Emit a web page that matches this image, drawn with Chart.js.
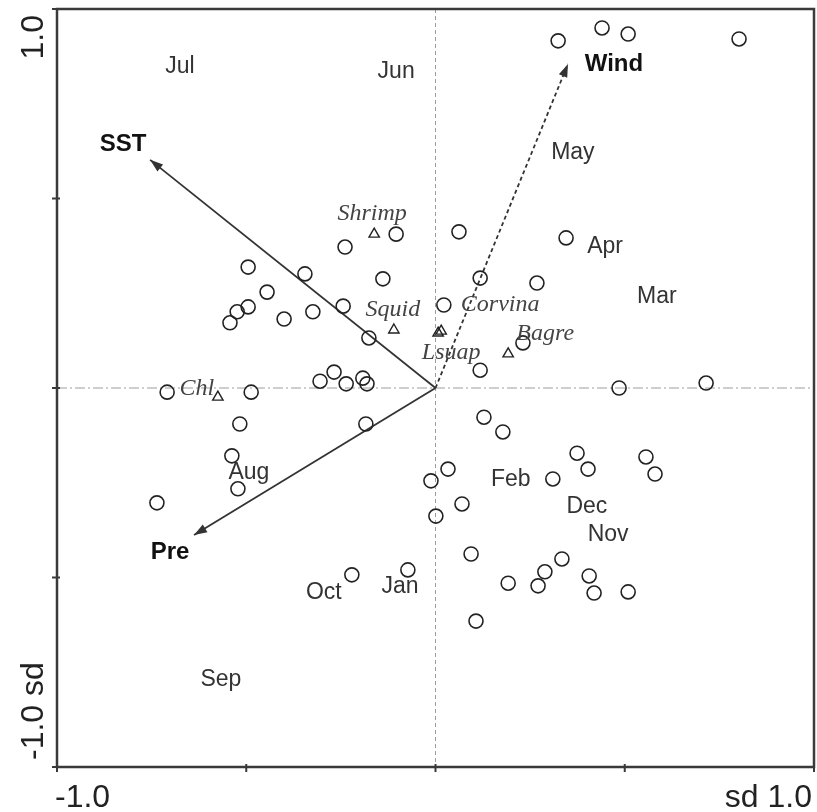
<!DOCTYPE html>
<html lang="en">
<head>
<meta charset="UTF-8" />
<title>CCA biplot</title>
<script src="https://cdn.jsdelivr.net/npm/chart.js"></script>
<style>
  html, body { margin: 0; padding: 0; background: #fff; overflow: hidden; }
  canvas { display: block; }
</style>
</head>
<body>
<canvas id="biplot" width="817" height="812"></canvas>
<script>
// sample scores (open circles)
const sampleX = [0.324, 0.440, 0.509, 0.802, -0.239, -0.104, 0.062, 0.345, -0.139, 0.118,
  0.268, -0.345, -0.495, -0.445, -0.495, -0.524, -0.543, -0.400, -0.324, -0.244,
  -0.176, -0.268, -0.305, -0.236, -0.192, -0.181, -0.709, -0.487, -0.517, -0.538,
  -0.522, -0.736, -0.184, 0.022, 0.231, 0.118, 0.485, 0.715, 0.128, 0.178,
  0.374, 0.403, 0.556, 0.580, 0.033, -0.012, 0.310, 0.070, 0.001, 0.094,
  -0.073, 0.192, 0.271, 0.289, 0.334, 0.406, 0.419, 0.509, 0.107, -0.221];
const sampleY = [0.916, 0.950, 0.934, 0.921, 0.372, 0.406, 0.412, 0.396, 0.288, 0.290,
  0.277, 0.301, 0.319, 0.253, 0.214, 0.201, 0.172, 0.182, 0.201, 0.216,
  0.132, 0.042, 0.018, 0.011, 0.026, 0.011, -0.011, -0.011, -0.095, -0.179,
  -0.266, -0.303, -0.095, 0.219, 0.119, 0.047, 0.000, 0.013, -0.077, -0.116,
  -0.172, -0.214, -0.182, -0.227, -0.214, -0.245, -0.240, -0.306, -0.338, -0.438,
  -0.480, -0.515, -0.522, -0.485, -0.451, -0.496, -0.541, -0.538, -0.615, -0.493];

// species scores (triangles)
const speciesNames = ["Shrimp", "Squid", "Corvina", "Lsuap", "Bagre", "Chl"];
const speciesX = [-0.162, -0.110, 0.015, 0.007, 0.192, -0.575];
const speciesY = [0.406, 0.153, 0.150, 0.145, 0.090, -0.024];

// month labels
const monthNames = ["Jul", "Jun", "May", "Apr", "Mar", "Aug", "Feb", "Dec", "Nov", "Oct", "Jan", "Sep"];
const monthX = [-0.675, -0.104, 0.363, 0.448, 0.585, -0.493, 0.199, 0.400, 0.456, -0.295, -0.094, -0.567];
const monthY = [0.847, 0.834, 0.620, 0.372, 0.240, -0.224, -0.243, -0.314, -0.388, -0.541, -0.525, -0.770];

// environmental vectors
const envNames = ["SST", "Wind", "Pre"];
const envX = [-0.754, 0.350, -0.638];
const envY = [0.602, 0.855, -0.388];

const axisTicks = [-1, -0.5, 0, 0.5, 1];

// label offsets in pixels from the marker / arrow tip
const speciesOffset = {
  Shrimp: [-2, -20], Squid: [-1, -20], Corvina: [59, -26],
  Lsuap: [13, 20], Bagre: [37, -20], Chl: [-21, -8]
};
const envOffset = { SST: [-27, -15], Wind: [46, 0], Pre: [-24, 17] };

const biplotDecor = {
  id: "biplotDecor",
  beforeDatasetsDraw(chart) {
    const { ctx, chartArea: a, scales: { x, y } } = chart;
    const x0 = x.getPixelForValue(0), y0 = y.getPixelForValue(0);
    ctx.save();
    ctx.strokeStyle = "#9c9c9c";
    ctx.lineWidth = 1;
    ctx.setLineDash([4, 3]);
    ctx.beginPath(); ctx.moveTo(x0, a.top); ctx.lineTo(x0, a.bottom); ctx.stroke();
    ctx.setLineDash([10, 3, 2, 3]);
    ctx.beginPath(); ctx.moveTo(a.left, y0); ctx.lineTo(a.right, y0); ctx.stroke();
    ctx.restore();
  },
  afterDatasetsDraw(chart) {
    const { ctx, chartArea: a, scales: { x, y } } = chart;
    const x0 = x.getPixelForValue(0), y0 = y.getPixelForValue(0);
    ctx.save();

    // arrow heads
    ctx.fillStyle = "#333";
    envNames.forEach((n, i) => {
      const tx = x.getPixelForValue(envX[i]), ty = y.getPixelForValue(envY[i]);
      const ang = Math.atan2(ty - y0, tx - x0);
      ctx.save();
      ctx.translate(tx, ty);
      ctx.rotate(ang);
      ctx.beginPath();
      ctx.moveTo(0, 0); ctx.lineTo(-13, -4.5); ctx.lineTo(-13, 4.5); ctx.closePath();
      ctx.fill();
      ctx.restore();
    });

    // frame
    ctx.strokeStyle = "#3a3a3a";
    ctx.lineWidth = 2.5;
    ctx.strokeRect(a.left, a.top, a.right - a.left, a.bottom - a.top);

    // tick marks
    ctx.lineWidth = 2;
    axisTicks.forEach(t => {
      const px = x.getPixelForValue(t), py = y.getPixelForValue(t);
      ctx.beginPath(); ctx.moveTo(px, a.bottom - 3); ctx.lineTo(px, a.bottom + 5); ctx.stroke();
      ctx.beginPath(); ctx.moveTo(a.left - 5, py); ctx.lineTo(a.left + 3, py); ctx.stroke();
    });

    // axis labels
    ctx.fillStyle = "#222";
    ctx.font = "32px 'Liberation Sans', Arial, sans-serif";
    ctx.textBaseline = "alphabetic";
    ctx.textAlign = "left";
    ctx.fillText("-1.0", a.left - 2, 807);
    ctx.textAlign = "right";
    ctx.fillText("sd 1.0", a.right - 2, 807);
    ctx.save();
    ctx.translate(43, a.top + 6);
    ctx.rotate(-Math.PI / 2);
    ctx.textAlign = "right";
    ctx.fillText("1.0", 0, 0);
    ctx.restore();
    ctx.save();
    ctx.translate(43, a.bottom - 7);
    ctx.rotate(-Math.PI / 2);
    ctx.textAlign = "left";
    ctx.fillText("-1.0 sd", 0, 0);
    ctx.restore();

    // month labels
    ctx.textAlign = "center";
    ctx.textBaseline = "middle";
    ctx.fillStyle = "#333";
    ctx.font = "23px 'Liberation Sans', Arial, sans-serif";
    monthNames.forEach((m, i) => {
      ctx.fillText(m, x.getPixelForValue(monthX[i]), y.getPixelForValue(monthY[i]));
    });

    // species labels
    ctx.fillStyle = "#444";
    ctx.font = "italic 24px 'Liberation Serif', 'Times New Roman', serif";
    speciesNames.forEach((s, i) => {
      const o = speciesOffset[s];
      ctx.fillText(s, x.getPixelForValue(speciesX[i]) + o[0], y.getPixelForValue(speciesY[i]) + o[1]);
    });

    // environmental labels
    ctx.fillStyle = "#111";
    ctx.font = "bold 24px 'Liberation Sans', Arial, sans-serif";
    envNames.forEach((n, i) => {
      const o = envOffset[n];
      ctx.fillText(n, x.getPixelForValue(envX[i]) + o[0], y.getPixelForValue(envY[i]) + o[1]);
    });

    ctx.restore();
  }
};

const arrowSets = envNames.map((n, i) => ({
  label: n,
  data: [{ x: 0, y: 0 }, { x: envX[i], y: envY[i] }],
  showLine: true,
  borderColor: "#333",
  borderWidth: 1.8,
  borderDash: n === "Wind" ? [4, 3] : [],
  pointRadius: 0
}));

new Chart(document.getElementById("biplot"), {
  type: "scatter",
  data: {
    datasets: [
      {
        label: "Samples",
        data: sampleX.map((v, i) => ({ x: v, y: sampleY[i] })),
        pointStyle: "circle",
        pointRadius: 7,
        backgroundColor: "rgba(255,255,255,0)",
        borderColor: "#222",
        borderWidth: 1.6
      },
      {
        label: "Species",
        data: speciesX.map((v, i) => ({ x: v, y: speciesY[i] })),
        pointStyle: "triangle",
        pointRadius: 6,
        backgroundColor: "rgba(255,255,255,0)",
        borderColor: "#222",
        borderWidth: 1.4
      },
      ...arrowSets
    ]
  },
  options: {
    responsive: false,
    animation: false,
    // no auto padding for point radius, so the plot box is exactly 57..814 x 9..767
    layout: { autoPadding: false, padding: { left: 57, right: 3, top: 9, bottom: 45 } },
    scales: {
      x: { type: "linear", min: -1, max: 1, display: false },
      y: { type: "linear", min: -1, max: 1, display: false }
    },
    plugins: {
      legend: { display: false },
      tooltip: { enabled: false }
    }
  },
  plugins: [biplotDecor]
});
</script>
</body>
</html>
